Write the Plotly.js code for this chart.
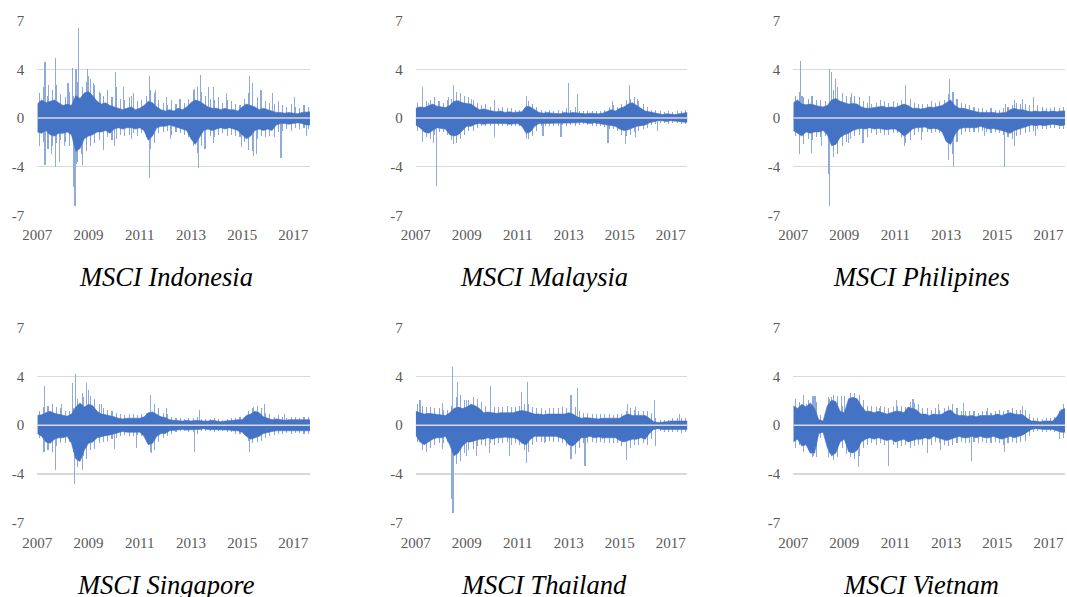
<!DOCTYPE html>
<html><head><meta charset="utf-8">
<script src="https://cdn.plot.ly/plotly-3.0.1.min.js"></script>
<style>html,body{margin:0;padding:0;background:#fff}#chart{width:1067px;height:597px}</style>
</head><body><div id="chart"></div>
<script>
// ---- labels ----
const panelNames = ['MSCI Indonesia','MSCI Malaysia','MSCI Philipines','MSCI Singapore','MSCI Thailand','MSCI Vietnam'];
const yTickVals = [-7,-3.5,0,3.5,7];
const yTickText = ['-7','-4','0','4','7'];
const xTickVals = [2007,2009,2011,2013,2015,2017];
const xTickText = ['2007','2009','2011','2013','2015','2017'];

// ---- dense core band (bi-monthly envelope of daily returns, from Jan 2007) ----
const indoUp = [1.0,1.3,1.1,1.2,1.3,1.1, 0.9,1.0,0.9,1.6,1.4,1.8, 1.9,1.6,1.2,1.0,1.1,0.9, 0.8,0.7,0.6,0.7,0.8,0.6, 0.7,0.9,1.2,1.1,0.8,0.6, 0.5,0.6,0.5,0.7,0.6,0.8, 1.1,1.3,1.2,1.0,0.8,0.7, 0.7,0.6,0.7,0.6,0.6,0.5, 0.8,1.0,0.9,0.8,0.6,0.7, 0.6,0.5,0.4,0.4,0.35,0.4, 0.35,0.3,0.4,0.4,0.45];
const indoDn = [-1.0,-1.1,-0.9,-1.2,-1.3,-1.1, -1.1,-1.0,-1.2,-2.4,-2.2,-1.5, -1.3,-1.2,-1.0,-1.0,-0.9,-1.1, -0.8,-0.7,-0.8,-0.7,-0.7,-0.8, -0.7,-0.9,-1.6,-1.3,-0.7,-0.6, -0.6,-0.5,-0.6,-0.7,-0.8,-0.9, -1.5,-1.9,-1.4,-0.9,-0.8,-0.9, -0.8,-0.7,-0.8,-0.7,-0.8,-0.9, -1.2,-1.5,-1.3,-0.9,-0.8,-0.9, -0.8,-0.9,-0.5,-0.4,-0.4,-0.45, -0.4,-0.35,-0.4,-0.5,-0.5];
const malayUp = [0.7,0.8,0.75,0.9,1.0,0.85, 0.8,0.75,0.9,1.2,1.25,1.1, 1.05,1.0,0.8,0.6,0.65,0.55, 0.5,0.45,0.5,0.4,0.45,0.4, 0.4,0.45,0.85,0.8,0.6,0.4, 0.35,0.4,0.35,0.35,0.3,0.4, 0.35,0.4,0.35,0.3,0.3,0.35, 0.3,0.3,0.35,0.5,0.6,0.5, 0.7,0.8,1.0,1.1,0.9,0.7, 0.5,0.45,0.4,0.3,0.25,0.3, 0.25,0.25,0.3,0.35,0.4];
const malayDn = [-0.5,-0.7,-1.0,-1.1,-0.9,-0.7, -0.75,-0.8,-1.2,-1.3,-1.2,-0.9, -0.6,-0.6,-0.45,-0.4,-0.45,-0.4, -0.4,-0.35,-0.4,-0.4,-0.45,-0.4, -0.4,-0.6,-1.1,-1.0,-0.6,-0.4, -0.4,-0.35,-0.4,-0.35,-0.35,-0.4, -0.35,-0.4,-0.35,-0.3,-0.35,-0.4, -0.35,-0.4,-0.45,-0.5,-0.55,-0.6, -0.8,-0.9,-0.85,-0.7,-0.6,-0.55, -0.5,-0.35,-0.25,-0.2,-0.2,-0.25, -0.2,-0.2,-0.25,-0.3,-0.3];
const philUp = [1.1,1.3,1.0,0.95,1.0,0.9, 0.85,0.8,0.9,1.3,1.4,1.2, 1.1,1.0,1.05,1.0,0.8,0.7, 0.7,0.75,0.8,0.85,0.75,0.8, 0.75,0.9,1.0,0.9,0.7,0.7, 0.65,0.7,0.8,0.75,0.8,0.9, 1.1,1.3,0.9,0.7,0.7,0.6, 0.5,0.45,0.4,0.4,0.45,0.4, 0.35,0.35,0.4,0.6,0.7,0.6, 0.6,0.5,0.45,0.5,0.45,0.5, 0.45,0.5,0.45,0.5,0.5];
const philDn = [-0.9,-1.1,-1.3,-1.0,-1.1,-1.0, -1.0,-0.9,-1.2,-2.0,-1.9,-1.4, -1.2,-1.1,-0.9,-0.8,-0.75,-0.8, -0.7,-0.8,-0.75,-0.8,-0.85,-0.8, -0.8,-1.0,-1.3,-1.1,-0.8,-0.7, -0.7,-0.65,-0.8,-0.75,-0.8,-1.0, -1.7,-1.9,-1.2,-0.8,-0.7,-0.7, -0.65,-0.7,-0.6,-0.7,-0.8,-0.75, -0.8,-0.9,-1.0,-1.1,-0.9,-0.8, -0.7,-0.6,-0.5,-0.55,-0.5,-0.55, -0.5,-0.45,-0.5,-0.55,-0.5];
const singUp = [0.7,0.75,0.9,1.0,0.85,0.8, 0.7,0.65,0.8,1.3,1.6,1.3, 1.5,1.4,1.0,0.8,0.75,0.7, 0.6,0.5,0.45,0.5,0.5,0.45, 0.5,0.6,0.9,0.95,0.8,0.6, 0.55,0.4,0.35,0.3,0.3,0.35, 0.3,0.35,0.3,0.3,0.3,0.35, 0.3,0.25,0.3,0.3,0.35,0.4, 0.4,0.7,0.8,1.0,0.9,0.6, 0.5,0.4,0.45,0.4,0.35,0.4, 0.4,0.35,0.4,0.4,0.4];
const singDn = [-0.6,-0.8,-1.2,-1.3,-1.0,-0.9, -0.9,-0.8,-1.3,-2.4,-2.6,-1.8, -1.3,-1.2,-0.9,-0.8,-0.75,-0.7, -0.6,-0.5,-0.45,-0.5,-0.5,-0.45, -0.5,-0.8,-1.4,-1.3,-0.8,-0.6, -0.6,-0.4,-0.35,-0.3,-0.3,-0.35, -0.3,-0.3,-0.3,-0.25,-0.3,-0.3, -0.3,-0.3,-0.35,-0.35,-0.4,-0.4, -0.5,-0.8,-1.0,-0.9,-0.8,-0.6, -0.5,-0.45,-0.4,-0.4,-0.35,-0.4, -0.35,-0.35,-0.4,-0.4,-0.4];
const thaiUp = [1.0,0.9,0.8,0.85,0.8,0.75, 0.7,0.7,0.9,1.2,1.3,1.2, 1.3,1.5,1.4,1.2,0.9,0.95, 0.9,0.85,0.9,0.9,0.85,0.9, 1.0,1.05,1.0,0.9,0.8,0.8, 0.75,0.8,0.8,0.8,0.85,0.8, 0.9,0.8,0.6,0.5,0.55,0.5, 0.5,0.45,0.5,0.5,0.45,0.5, 0.5,0.7,0.8,0.7,0.7,0.65, 0.7,0.5,0.25,0.2,0.2,0.25, 0.3,0.3,0.35,0.3,0.3];
const thaiDn = [-0.7,-1.2,-1.4,-1.2,-1.0,-0.9, -0.9,-0.8,-1.4,-2.2,-2.0,-1.5, -1.2,-1.2,-1.1,-1.0,-1.0,-0.9, -1.0,-0.9,-0.9,-0.85,-0.9,-0.9, -1.0,-1.3,-1.4,-1.0,-0.8,-0.8, -0.8,-0.75,-0.8,-0.8,-0.9,-1.0, -1.4,-1.5,-1.2,-0.9,-0.9,-0.8, -0.9,-0.85,-0.9,-0.9,-0.9,-0.9, -1.1,-1.2,-1.1,-1.0,-1.0,-0.9, -1.0,-0.6,-0.3,-0.25,-0.3,-0.3, -0.3,-0.3,-0.35,-0.3,-0.3];
const vietUp = [1.4,1.2,1.5,1.3,1.6,1.2, 0.4,0.3,1.4,1.8,1.7,1.0, 0.9,1.9,2.0,1.9,1.4,1.0, 1.0,0.9,1.0,0.9,0.8,0.9, 1.0,1.0,0.9,1.3,1.2,1.1, 0.8,0.8,0.7,0.8,0.75,0.8, 1.0,1.1,0.8,0.7,0.7,0.65, 0.7,0.6,0.7,0.7,0.65,0.7, 0.8,0.7,0.8,0.9,0.8,0.8, 0.75,0.5,0.3,0.3,0.25,0.3, 0.3,0.3,0.6,1.1,1.2];
const vietDn = [-1.2,-1.0,-1.5,-1.4,-2.0,-2.0, -0.6,-0.5,-1.6,-2.2,-2.0,-1.2, -1.0,-1.9,-2.0,-1.8,-1.2,-1.0, -0.9,-1.0,-0.9,-1.0,-1.1,-1.0, -1.2,-1.1,-1.0,-1.2,-1.1,-1.0, -1.0,-0.9,-1.0,-0.8,-0.9,-1.0, -1.1,-1.0,-0.9,-0.8,-0.9,-0.9, -0.8,-0.9,-0.8,-0.9,-0.9,-0.8, -0.9,-1.0,-0.9,-0.8,-0.9,-0.8, -0.7,-0.5,-0.3,-0.25,-0.3,-0.3, -0.3,-0.3,-0.4,-0.5,-0.5];

// ---- lighter fringe of frequent larger moves (bi-monthly, mid-period) ----
const indoFrUp = [1.8,2.2,1.6,2.0,2.4,1.7, 1.5,1.9,1.6,2.6,2.2,2.6, 2.8,2.4,1.9,1.6,2.0,1.5, 2.2,1.4,1.3,1.5,1.8,1.2, 1.3,1.6,2.0,1.8,1.3,1.1, 0.9,1.3,1.0,1.2,1.1,1.4, 2.0,2.2,1.9,1.6,1.4,1.3, 1.5,1.1,1.3,1.2,1.0,0.9, 1.4,1.8,1.6,1.5,1.3,1.2, 1.1,1.0,1.2,0.9,0.8,1.0, 0.8,0.7,0.9,0.8];
const indoFrDn = [-1.9,-1.7,-2.2,-2.0,-1.8,-1.6, -1.7,-2.0,-1.8,-3.2,-3.4,-2.4, -2.0,-1.8,-1.6,-1.5,-1.4,-1.6, -1.5,-1.2,-1.3,-1.2,-1.1,-1.3, -1.1,-1.4,-2.2,-1.8,-1.1,-1.0, -0.9,-1.2,-1.0,-1.1,-1.2,-1.4, -2.0,-2.5,-2.0,-1.4,-1.3,-1.4, -1.2,-1.1,-1.3,-1.2,-1.3,-1.4, -1.7,-2.3,-2.4,-1.5,-1.3,-1.4, -1.3,-1.4,-1.0,-0.9,-0.8,-0.9, -0.7,-0.8,-0.7,-0.8];
const malayFrUp = [1.1,1.4,1.2,1.3,1.5,1.2, 1.1,1.3,1.4,1.7,1.8,1.5, 1.5,1.3,1.1,0.9,1.0,0.8, 0.8,0.7,0.8,0.7,0.7,0.6, 0.6,0.7,1.2,1.0,0.8,0.6, 0.5,0.6,0.5,0.6,0.5,0.7, 0.6,0.8,0.5,0.5,0.5,0.5, 0.5,0.5,0.6,0.8,0.9,0.8, 1.0,1.3,1.4,1.5,1.2,1.0, 0.8,0.6,0.6,0.5,0.45,0.5, 0.45,0.5,0.5,0.6];
const malayFrDn = [-0.9,-1.2,-1.4,-1.5,-1.2,-1.0, -1.0,-1.2,-1.6,-1.8,-1.5,-1.2, -0.9,-0.9,-0.7,-0.6,-0.6,-0.6, -0.6,-0.6,-0.6,-0.6,-0.6,-0.55, -0.6,-0.9,-1.5,-1.3,-0.9,-0.6, -0.6,-0.55,-0.6,-0.55,-0.5,-0.6, -0.5,-0.6,-0.5,-0.45,-0.5,-0.6, -0.55,-0.6,-0.65,-0.8,-0.8,-0.9, -1.2,-1.3,-1.2,-1.0,-0.9,-0.8, -0.7,-0.5,-0.4,-0.35,-0.35,-0.4, -0.35,-0.35,-0.4,-0.45];
const philFrUp = [1.6,1.9,1.5,1.4,1.6,1.3, 1.3,1.2,1.4,2.0,2.2,1.8, 1.6,1.5,1.6,1.5,1.2,1.1, 1.0,1.1,1.3,1.2,1.1,1.2, 1.1,1.3,1.6,1.4,1.1,1.0, 1.0,1.0,1.2,1.1,1.2,1.3, 1.7,1.9,1.4,1.1,1.0,0.9, 0.8,0.7,0.7,0.6,0.7,0.6, 0.6,0.7,0.8,0.9,1.1,1.0, 1.0,0.9,0.8,0.9,0.8,0.7, 0.7,0.8,0.7,0.8];
const philFrDn = [-1.3,-1.6,-1.9,-1.5,-1.6,-1.4, -1.4,-1.3,-1.8,-2.8,-2.6,-2.0, -1.7,-1.5,-1.3,-1.2,-1.3,-1.4, -1.1,-1.2,-1.1,-1.2,-1.2,-1.1, -1.1,-1.4,-1.8,-1.6,-1.2,-1.0, -1.0,-1.0,-1.1,-1.0,-1.1,-1.3, -2.2,-2.6,-1.7,-1.2,-1.0,-1.0, -1.0,-1.0,-0.9,-1.0,-1.1,-1.0, -1.1,-1.2,-1.4,-1.5,-1.3,-1.2, -1.1,-1.0,-0.9,-0.8,-0.8,-0.8, -0.7,-0.7,-0.8,-0.8];
const singFrUp = [1.0,1.3,1.4,1.5,1.3,1.2, 1.0,1.0,1.2,1.9,2.3,2.0, 2.1,1.9,1.5,1.2,1.1,1.0, 0.9,0.8,0.7,0.8,0.8,0.7, 0.8,0.9,1.4,1.5,1.2,0.9, 0.8,0.6,0.5,0.5,0.45,0.5, 0.5,0.6,0.45,0.45,0.45,0.5, 0.45,0.4,0.45,0.5,0.55,0.6, 0.6,1.0,1.2,1.4,1.2,0.9, 0.8,0.6,0.7,0.6,0.55,0.6, 0.6,0.55,0.6,0.6];
const singFrDn = [-0.9,-1.2,-1.8,-1.9,-1.5,-1.3, -1.3,-1.2,-1.9,-3.0,-3.2,-2.4, -1.8,-1.7,-1.3,-1.2,-1.1,-1.0, -0.9,-0.8,-0.7,-0.8,-0.8,-0.7, -0.8,-1.2,-1.9,-1.8,-1.2,-0.9, -0.8,-0.6,-0.5,-0.45,-0.45,-0.5, -0.5,-0.6,-0.45,-0.4,-0.45,-0.5, -0.45,-0.45,-0.5,-0.5,-0.6,-0.6, -0.7,-1.1,-1.3,-1.2,-1.1,-0.9, -0.8,-0.7,-0.6,-0.6,-0.55,-0.6, -0.55,-0.55,-0.6,-0.6];
const thaiFrUp = [1.5,1.4,1.3,1.3,1.2,1.2, 1.1,1.1,1.4,2.0,2.2,1.8, 1.8,2.0,1.9,1.7,1.4,1.4, 1.3,1.3,1.3,1.4,1.3,1.3, 1.4,1.5,1.5,1.3,1.2,1.2, 1.1,1.2,1.2,1.2,1.3,1.2, 1.3,1.3,1.0,0.9,0.9,0.8, 0.8,0.8,0.8,0.8,0.7,0.8, 0.8,1.0,1.2,1.1,1.0,1.0, 1.0,0.9,0.5,0.35,0.35,0.4, 0.5,0.5,0.55,0.5];
const thaiFrDn = [-1.2,-1.7,-1.9,-1.6,-1.4,-1.3, -1.3,-1.2,-1.9,-2.8,-2.6,-2.0, -1.8,-1.7,-1.5,-1.4,-1.5,-1.3, -1.4,-1.3,-1.3,-1.2,-1.4,-1.3, -1.4,-1.8,-1.9,-1.4,-1.2,-1.2, -1.2,-1.1,-1.2,-1.2,-1.3,-1.5, -2.0,-2.1,-1.6,-1.3,-1.3,-1.2, -1.3,-1.2,-1.3,-1.3,-1.3,-1.3, -1.5,-1.7,-1.6,-1.4,-1.4,-1.3, -1.4,-1.0,-0.5,-0.45,-0.5,-0.5, -0.5,-0.5,-0.55,-0.5];
const vietFrUp = [1.9,1.7,2.0,1.8,2.1,1.7, 0.7,0.6,1.9,2.2,2.1,1.4, 1.3,2.3,2.3,2.2,1.8,1.4, 1.4,1.3,1.4,1.3,1.2,1.3, 1.4,1.4,1.3,1.7,1.6,1.5, 1.2,1.2,1.1,1.2,1.1,1.2, 1.4,1.5,1.2,1.0,1.0,1.0, 1.0,0.9,1.0,1.0,0.9,1.0, 1.1,1.0,1.1,1.2,1.1,1.1, 1.1,0.8,0.5,0.5,0.45,0.5, 0.5,0.6,1.0,1.5];
const vietFrDn = [-1.6,-1.4,-1.9,-1.8,-2.3,-2.3, -0.9,-0.8,-2.0,-2.5,-2.3,-1.6, -1.4,-2.3,-2.4,-2.2,-1.6,-1.4, -1.3,-1.4,-1.3,-1.4,-1.5,-1.4, -1.6,-1.5,-1.4,-1.6,-1.5,-1.4, -1.4,-1.3,-1.4,-1.2,-1.3,-1.4, -1.5,-1.4,-1.3,-1.2,-1.3,-1.3, -1.2,-1.3,-1.2,-1.3,-1.3,-1.2, -1.3,-1.4,-1.3,-1.2,-1.3,-1.2, -1.1,-0.8,-0.5,-0.45,-0.5,-0.5, -0.45,-0.5,-0.6,-0.9];

// ---- isolated large daily moves (decimal year, return) ----
const indoSpikeX = [2007.10,2007.30,2007.30,2007.45,2007.55,2007.70,2007.70,2007.86,2008.05,2008.20,2008.38,2008.42,2008.47,2008.51,2008.54,2008.61,2008.72,2008.95,2008.99,2009.19,2009.45,2009.60,2010.03,2010.06,2010.36,2010.68,2010.68,2011.39,2011.39,2011.60,2012.05,2012.20,2012.57,2013.13,2013.30,2013.37,2013.55,2013.68,2013.88,2013.88,2014.40,2014.98,2015.29,2015.40,2015.44,2015.55,2015.74,2016.20,2016.52,2017.04,2017.53];
const indoSpikeY = [-2.0,4.0,-3.4,2.4,-2.6,4.3,-3.5,-3.2,-2.0,2.5,3.6,-5.0,-6.3,3.5,-3.3,6.5,-2.6,3.5,3.0,2.5,1.8,-2.3,-2.0,3.3,2.2,1.6,-1.5,3.0,-4.3,2.0,1.5,-1.5,1.4,2.1,-3.6,3.1,-2.2,2.2,2.2,-1.8,1.8,-2.1,3.0,2.5,-2.7,-2.6,2.0,1.8,-2.9,1.5,-1.3];
const malaySpikeX = [2007.26,2007.26,2007.49,2007.69,2007.81,2007.89,2008.30,2008.47,2008.47,2008.60,2008.90,2009.19,2010.10,2010.10,2011.36,2011.36,2011.99,2012.70,2012.98,2013.35,2014.54,2014.72,2015.24,2015.39,2015.63,2015.70,2016.48,2017.59];
const malaySpikeY = [2.2,-1.7,1.1,-1.8,-4.9,1.2,1.5,2.4,-1.9,1.9,1.6,1.4,1.3,-1.4,1.6,-1.5,-1.3,-1.4,2.5,1.7,-1.8,1.2,-1.9,2.4,-1.4,1.4,-0.9,0.6];
const philSpikeX = [2007.23,2007.27,2007.34,2007.70,2007.70,2008.11,2008.39,2008.41,2008.43,2008.51,2008.56,2008.65,2009.15,2009.28,2009.73,2009.99,2011.36,2011.39,2012.01,2013.09,2013.13,2013.28,2013.29,2014.49,2015.28,2015.33,2015.67,2015.67,2015.98,2016.41,2016.48];
const philSpikeY = [-2.6,4.1,1.6,1.6,-2.5,-2.0,-4.0,3.5,-6.3,3.3,-2.8,2.8,-1.8,1.8,-1.8,1.6,-2.0,2.4,-1.6,-3.0,2.8,-3.5,1.9,-1.3,-3.5,1.0,-2.0,1.3,1.4,1.5,-1.3];
const singSpikeX = [2007.26,2007.29,2007.70,2007.95,2008.38,2008.46,2008.48,2008.80,2008.80,2008.93,2008.99,2009.51,2010.03,2010.88,2011.43,2011.47,2012.05,2013.13,2013.33,2015.28,2015.44,2015.87,2016.67];
const singSpikeY = [-1.9,2.8,-3.2,1.5,3.0,-4.2,3.7,2.0,-2.2,3.0,2.5,1.5,-1.7,-1.6,2.2,-2.0,1.2,-1.9,1.1,-1.9,1.3,1.5,0.8];
const thaiSpikeX = [2007.17,2007.26,2008.05,2008.05,2008.39,2008.45,2008.46,2008.63,2008.99,2008.99,2009.38,2009.90,2009.93,2010.68,2011.14,2011.36,2011.40,2012.05,2013.09,2013.09,2013.35,2013.64,2014.33,2015.27,2015.31,2015.63,2016.35,2016.41,2017.33];
const thaiSpikeY = [1.8,-1.8,1.6,-1.7,-5.3,4.2,-6.3,3.1,1.8,-2.2,-2.2,-2.0,2.8,-2.2,2.4,-2.7,3.1,-1.3,2.2,-2.4,2.7,-2.9,-1.0,-2.5,1.5,1.3,1.8,-1.5,0.8];
const vietSpikeX = [2007.39,2007.52,2007.77,2007.77,2007.85,2008.37,2008.37,2008.50,2008.89,2009.02,2009.08,2009.54,2009.67,2010.39,2010.74,2011.04,2011.69,2012.27,2012.69,2012.77,2013.67,2013.98,2014.62,2015.27,2015.98,2017.42];
const vietSpikeY = [2.2,1.5,2.1,-2.2,2.1,2.0,-2.3,2.0,2.1,2.1,-2.1,-3.0,1.3,1.2,-2.9,1.8,1.9,-2.0,1.5,-1.8,1.6,-2.6,1.2,-1.9,1.4,-1.0];

const panels = [
  {name:panelNames[0], up:indoUp,  dn:indoDn,  fu:indoFrUp,  fd:indoFrDn,  sx:indoSpikeX,  sy:indoSpikeY},
  {name:panelNames[1], up:malayUp, dn:malayDn, fu:malayFrUp, fd:malayFrDn, sx:malaySpikeX, sy:malaySpikeY},
  {name:panelNames[2], up:philUp,  dn:philDn,  fu:philFrUp,  fd:philFrDn,  sx:philSpikeX,  sy:philSpikeY},
  {name:panelNames[3], up:singUp,  dn:singDn,  fu:singFrUp,  fd:singFrDn,  sx:singSpikeX,  sy:singSpikeY},
  {name:panelNames[4], up:thaiUp,  dn:thaiDn,  fu:thaiFrUp,  fd:thaiFrDn,  sx:thaiSpikeX,  sy:thaiSpikeY},
  {name:panelNames[5], up:vietUp,  dn:vietDn,  fu:vietFrUp,  fd:vietFrDn,  sx:vietSpikeX,  sy:vietSpikeY}
];

const xDomains = [[0.035,0.2905],[0.3896,0.6441],[0.7435,0.9981]];
const yDomains = [[0.6394,0.9653],[0.1244,0.4511]];
const titleX = [0.156,0.5098,0.8632];
const titleY = [0.536,0.0201];
const blue = '#4472C4', light = '#8FAADC', fringe = '#8AA6DA';
const tickFont = {family:'"Liberation Serif","Times New Roman",serif', size:15, color:'#595959'};

const data = [];
const layout = {
  width:1067, height:597, margin:{l:0,r:0,t:0,b:0},
  paper_bgcolor:'#ffffff', plot_bgcolor:'rgba(0,0,0,0)',
  showlegend:false, barmode:'overlay', bargap:0,
  annotations:[], shapes:[]
};

panels.forEach((p, i) => {
  const k = i + 1, col = i % 3, row = Math.floor(i / 3);
  const xa = k === 1 ? 'x' : 'x' + k, ya = k === 1 ? 'y' : 'y' + k;
  [p.fu, p.fd].forEach(arr => {
    data.push({type:'bar', x0:2007 + 1/12, dx:1/6, y:arr, width:0.04, xaxis:xa, yaxis:ya,
      marker:{color:fringe, line:{width:0}}, hoverinfo:'skip'});
  });
  data.push({type:'bar', x:p.sx, y:p.sy, width:0.045, xaxis:xa, yaxis:ya,
    marker:{color:light, line:{width:0}}, hoverinfo:'skip'});
  [p.up, p.dn].forEach(arr => {
    data.push({type:'scatter', mode:'lines', x0:2007, dx:1/6, y:arr, xaxis:xa, yaxis:ya,
      fill:'tozeroy', fillcolor:blue, line:{color:blue, width:0.6}, hoverinfo:'skip'});
  });
  layout['xaxis' + (k === 1 ? '' : k)] = {
    domain:xDomains[col], anchor:ya, range:[2007, 2017.65],
    tickmode:'array', tickvals:xTickVals, ticktext:xTickText,
    showgrid:false, zeroline:false, showline:false, ticks:'', ticklen:0,
    tickfont:tickFont, ticklabelstandoff:9, fixedrange:true
  };
  layout['yaxis' + (k === 1 ? '' : k)] = {
    domain:yDomains[row], anchor:xa, range:[-7, 7],
    tickmode:'array', tickvals:yTickVals, ticktext:yTickText,
    showgrid:true, gridcolor:'#D9D9D9', gridwidth:1.3, zeroline:false, showline:false, ticks:'', ticklen:0,
    tickfont:tickFont, ticklabelstandoff:12, fixedrange:true
  };
  layout.shapes.push({type:'line', xref:xa + ' domain', yref:ya, x0:0, x1:1, y0:0, y1:0,
    line:{color:'#D9D9D9', width:1.5}, layer:'above'});
  layout.annotations.push({text:'<i>' + p.name + '</i>', xref:'paper', yref:'paper',
    x:titleX[col], y:titleY[row], xanchor:'center', yanchor:'middle', showarrow:false,
    font:{family:'"Liberation Serif","Times New Roman",serif', size:26.5, color:'#000000'}});
});

Plotly.newPlot('chart', data, layout, {displayModeBar:false, staticPlot:true});
</script>
</body></html>
